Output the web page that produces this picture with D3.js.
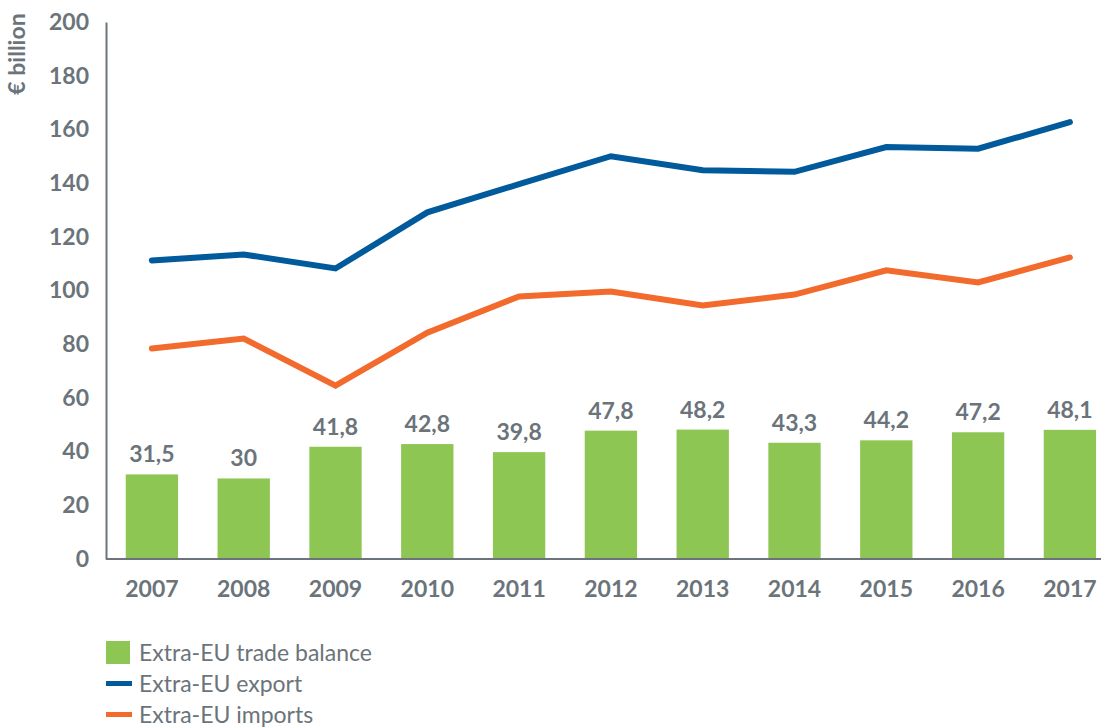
<!DOCTYPE html>
<html>
<head>
<meta charset="utf-8">
<script src="https://cdn.jsdelivr.net/npm/d3@7"></script>
<style>
  body { margin: 0; background: #fff; }
  text { font-family: Lato, "Open Sans", sans-serif; fill: #6b747a; }
</style>
</head>
<body>
<div id="chart"></div>
<script>
var years = ["2007","2008","2009","2010","2011","2012","2013","2014","2015","2016","2017"];
var balance = [31.5, 30, 41.8, 42.8, 39.8, 47.8, 48.2, 43.3, 44.2, 47.2, 48.1];
var balanceLabels = ["31,5","30","41,8","42,8","39,8","47,8","48,2","43,3","44,2","47,2","48,1"];
var exportVals = [111.2, 113.4, 108.2, 129.1, 139.6, 150.0, 144.8, 144.2, 153.4, 152.8, 162.7];
var importVals = [78.4, 82.1, 64.6, 84.3, 97.8, 99.6, 94.4, 98.5, 107.5, 103.0, 112.3];
var yTicks = [0, 20, 40, 60, 80, 100, 120, 140, 160, 180, 200];
var legendItems = [
  {name: "Extra-EU trade balance", type: "box", color: "#8dc653"},
  {name: "Extra-EU export", type: "line", color: "#005a9b"},
  {name: "Extra-EU imports", type: "line", color: "#f26a2c"}
];

var width = 1103, height = 727;
var plotLeft = 106, plotTop = 22, plotBottom = 559;

var svg = d3.select("#chart").append("svg")
  .attr("width", width)
  .attr("height", height);

var x = d3.scaleBand()
  .domain(years)
  .range([plotLeft, plotLeft + 91.8 * years.length])
  .paddingInner(0.43)
  .paddingOuter(0.215);

var y = d3.scaleLinear()
  .domain([0, 200])
  .range([plotBottom, plotTop]);

// bars
svg.selectAll("rect.bar")
  .data(years)
  .enter().append("rect")
  .attr("class", "bar")
  .attr("x", function(d) { return x(d); })
  .attr("y", function(d, i) { return y(balance[i]); })
  .attr("width", x.bandwidth())
  .attr("height", function(d, i) { return plotBottom - y(balance[i]); })
  .attr("fill", "#8dc653");

// bar labels
svg.selectAll("text.lbl")
  .data(years)
  .enter().append("text")
  .attr("class", "lbl")
  .attr("x", function(d) { return x(d) + x.bandwidth() / 2; })
  .attr("y", function(d, i) { return y(balance[i]) - 12; })
  .attr("text-anchor", "middle")
  .style("font-size", "23px")
  .style("font-weight", "bold")
  .text(function(d, i) { return balanceLabels[i]; });

// lines
var line = d3.line()
  .x(function(d, i) { return x(years[i]) + x.bandwidth() / 2; })
  .y(function(d) { return y(d); });

svg.append("path")
  .datum(importVals)
  .attr("d", line)
  .attr("fill", "none")
  .attr("stroke", "#f26a2c")
  .attr("stroke-width", 6)
  .attr("stroke-linecap", "round");

svg.append("path")
  .datum(exportVals)
  .attr("d", line)
  .attr("fill", "none")
  .attr("stroke", "#005a9b")
  .attr("stroke-width", 6)
  .attr("stroke-linecap", "round");

// axes
var yAxis = svg.append("g")
  .attr("transform", "translate(" + plotLeft + ",0)")
  .call(d3.axisLeft(y).tickValues(yTicks).tickSize(0).tickPadding(17));
yAxis.select(".domain").attr("stroke", "#6b747a").attr("stroke-width", 2);
yAxis.selectAll("text")
  .style("font-size", "23px")
  .style("font-weight", "bold")
  .style("font-family", "Lato, sans-serif")
  .attr("fill", "#6b747a");

var xAxis = svg.append("g")
  .attr("transform", "translate(0," + plotBottom + ")")
  .call(d3.axisBottom(x).tickSize(0).tickPadding(22));
xAxis.select(".domain").attr("d", "M" + plotLeft + ",0H" + (width - 2)).attr("stroke", "#6b747a").attr("stroke-width", 2);
xAxis.selectAll("text")
  .style("font-size", "23px")
  .style("font-weight", "bold")
  .style("font-family", "Lato, sans-serif")
  .attr("fill", "#6b747a");

// y title
svg.append("text")
  .attr("transform", "translate(25,54) rotate(-90)")
  .attr("text-anchor", "middle")
  .style("font-size", "23px")
  .style("font-weight", "bold")
  .text("€ billion");

// legend
var legend = svg.selectAll("g.leg")
  .data(legendItems)
  .enter().append("g")
  .attr("class", "leg")
  .attr("transform", function(d, i) { return "translate(106," + (652 + i * 31) + ")"; });

legend.each(function(d) {
  var g = d3.select(this);
  if (d.type == "box") {
    g.append("rect").attr("x", 0).attr("y", -11).attr("width", 24).attr("height", 23).attr("fill", d.color);
  } else {
    g.append("rect").attr("x", 0).attr("y", -2).attr("width", 26).attr("height", 5).attr("fill", d.color);
  }
  g.append("text")
    .attr("x", 33)
    .attr("y", 9)
    .style("font-size", "23px")
    .text(d.name);
});
</script>
</body>
</html>
